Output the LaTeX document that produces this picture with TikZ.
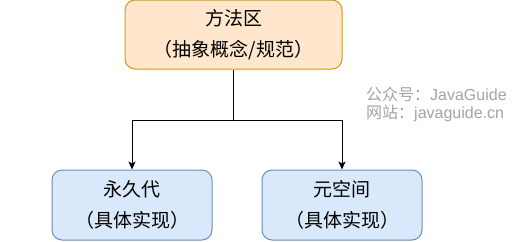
\documentclass[tikz,border=0pt]{standalone}
\usepackage{fontspec}
\setmainfont{Noto Sans CJK SC}
\newfontfamily\latinfont{Liberation Sans}
\usepackage{xcolor}
\usetikzlibrary{arrows.meta}
\definecolor{orangefig}{HTML}{FFE6CC}
\definecolor{orangeline}{HTML}{D79B00}
\definecolor{bluefig}{HTML}{DAE8FC}
\definecolor{blueline}{HTML}{6C8EBF}
\definecolor{greyfig}{HTML}{A3A3A3}
\tikzset{
    orangebox/.style={draw=orangeline, fill=orangefig, line width=1pt, rounded corners=10pt,
        minimum width=217pt, minimum height=69pt, align=center,
        font=\fontsize{19}{31}\selectfont},
    bluebox/.style={draw=blueline, fill=bluefig, line width=1pt, rounded corners=10pt,
        minimum width=160pt, minimum height=70pt, align=center,
        font=\fontsize{19}{31}\selectfont},
    blackarrow/.style={line width=1pt, color=black, -{Stealth[length=8pt, width=7pt, inset=2pt]}},
    watermark/.style={color=greyfig, align=left, anchor=west, inner sep=0pt,
        font=\fontsize{16}{18}\selectfont}
}
\begin{document}
\begin{tikzpicture}[x=1pt, y=-1pt]
        \useasboundingbox (0,0) rectangle (522,241);
        \coordinate (fork) at (233.5,120);
        
        \node[orangebox] (method) at (233.5,34.5) {方法区\\（抽象概念/规范）};
        \node[bluebox] (permgen) at (132,205) {永久代\\（具体实现）};
        \node[bluebox] (metaspace) at (342,205) {元空间\\（具体实现）};
        
        \draw[line width=1pt] (method.south) -- (fork);
        \draw[blackarrow] (fork) -| (permgen.north);
        \draw[blackarrow] (fork) -| (metaspace.north);
        
        \node[watermark] (wm) at (366,104) {公众号：{\latinfont JavaGuide}\\网站：{\latinfont javaguide.cn}};
        
    \end{tikzpicture}
\end{document}
